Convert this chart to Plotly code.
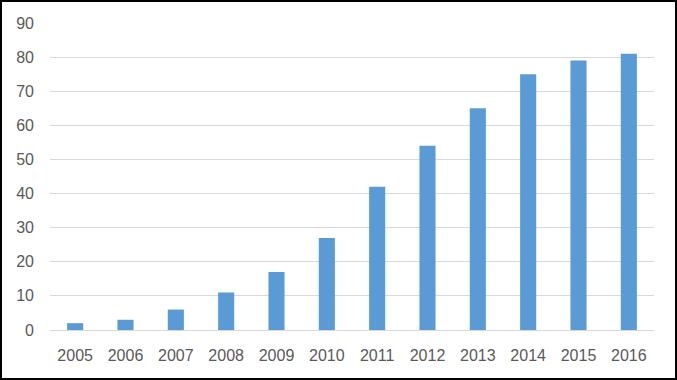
import plotly.graph_objects as go

years = ["2005", "2006", "2007", "2008", "2009", "2010", "2011", "2012", "2013", "2014", "2015", "2016"]
values = [2, 3, 6, 11, 17, 27, 42, 54, 65, 75, 79, 81]
y_ticks = [0, 10, 20, 30, 40, 50, 60, 70, 80, 90]

W, H = 677, 380
L, R, T, B = 50, 23, 23, 50
pw, ph = W - L - R, H - T - B

def px_to_paper_x(px):
    return (px - L) / pw

def px_to_paper_y(py):
    return (H - B - py) / ph

fig = go.Figure(go.Bar(x=years, y=values, marker=dict(color="#5B9BD5", line=dict(width=0)), hoverinfo="x+y"))

fig.update_layout(
    width=W, height=H,
    margin=dict(l=L, r=R, t=T, b=B, pad=0),
    paper_bgcolor="white", plot_bgcolor="white",
    bargap=0.68,
    showlegend=False,
    font=dict(family="Liberation Sans, Arial, sans-serif", size=16, color="#595959"),
    xaxis=dict(showgrid=False, showline=False, zeroline=False, ticks="", ticklabelstandoff=14,
               tickfont=dict(size=16, color="#595959")),
    yaxis=dict(range=[0, 90], tickvals=y_ticks, showgrid=True, gridcolor="#D9D9D9", gridwidth=1,
               zeroline=True, zerolinecolor="#D9D9D9", zerolinewidth=1, showline=False, ticks="",
               ticklabelstandoff=15, tickfont=dict(size=16, color="#595959")),
    shapes=[dict(type="rect", xref="paper", yref="paper",
                 x0=px_to_paper_x(1), x1=px_to_paper_x(W - 1),
                 y0=px_to_paper_y(H - 1), y1=px_to_paper_y(1),
                 line=dict(color="black", width=2), fillcolor="rgba(0,0,0,0)", layer="above")],
)

fig.write_html("out.html", config={"displayModeBar": False},
               post_script="document.body.style.margin='0';document.body.style.overflow='hidden';")
